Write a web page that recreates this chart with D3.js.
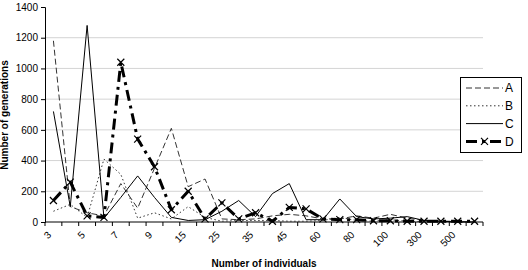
<!DOCTYPE html>
<html><head><meta charset="utf-8">
<script src="https://cdn.jsdelivr.net/npm/d3@7"></script>
<style>body{margin:0;background:#fff}svg{display:block;font-family:"Liberation Sans",Arial,sans-serif}</style>
</head><body><svg id="c" width="528" height="270"></svg>
<script>
const categories = ["3","4","5","6","7","8","9","10","15","20","25","30","35","40","45","50","60","70","80","90","100","200","300","400","500","600"];
const tickLabels = ["3","5","7","9","15","25","35","45","60","80","100","300","500"];
const yTicks = [0,200,400,600,800,1000,1200,1400];
const seriesA = [1180,100,60,40,250,90,350,610,230,280,20,15,20,40,50,40,20,20,40,25,50,25,10,5,5,0];
const seriesB = [70,115,30,410,310,25,60,20,100,30,5,10,10,10,5,5,10,30,10,5,15,5,2,0,0,0];
const seriesC = [720,100,1280,25,160,300,160,30,10,15,70,140,35,185,250,15,15,150,35,20,25,35,10,5,0,0];
const seriesD = [140,260,40,30,1040,540,360,80,200,20,125,20,60,5,95,85,20,15,15,8,8,5,5,5,5,5];
const seriesNames = ["A","B","C","D"];

const svg = d3.select("#c");
const x = d3.scaleBand().domain(categories).range([45,483]).padding(0);
const y = d3.scaleLinear().domain([0,1400]).range([222,7]);
const cx = c => x(c) + x.bandwidth()/2;

// gridlines
svg.append("g").selectAll("line").data(yTicks.filter(t=>t>0 && t<1400)).join("line")
  .attr("x1",45).attr("x2",483).attr("y1",d=>y(d)).attr("y2",d=>y(d))
  .attr("stroke","#d4d4d4").attr("stroke-width",1);

// y axis
const ya = svg.append("g").attr("transform","translate(45,0)")
  .call(d3.axisLeft(y).tickValues(yTicks).tickSize(4).tickPadding(3).tickFormat(d3.format("d")));
ya.select(".domain").attr("stroke","#000");
ya.selectAll("text").attr("font-size",10).attr("font-family","Liberation Sans, Arial").attr("fill","#000");
ya.selectAll(".tick line").attr("stroke","#000");

// x axis
const xa = svg.append("g").attr("transform","translate(0,222)");
xa.append("line").attr("x1",45).attr("x2",483).attr("y1",0).attr("y2",0).attr("stroke","#000");
const bounds = categories.map(c=>x(c)).concat([483]);
xa.selectAll("line.t").data(bounds).join("line").attr("class","t")
  .attr("x1",d=>d).attr("x2",d=>d).attr("y1",0).attr("y2",4).attr("stroke","#000");
xa.selectAll("text").data(tickLabels).join("text")
  .attr("transform",d=>`translate(${cx(d)-4},${11}) rotate(-45)`)
  .attr("text-anchor","end").attr("dy","0.35em")
  .attr("font-size",10).text(d=>d);

// lines
const line = d3.line().x((d,i)=>cx(categories[i])).y(d=>y(d));
const styles = {
  A:{data:seriesA, stroke:"#333", w:1, dash:"6,3"},
  B:{data:seriesB, stroke:"#333", w:1, dash:"1.5,2.5"},
  C:{data:seriesC, stroke:"#000", w:1, dash:null},
  D:{data:seriesD, stroke:"#000", w:3, dash:"11,5,3,5"}
};
["B","A","C","D"].forEach(k=>{
  const s = styles[k];
  svg.append("path").datum(s.data).attr("d",line).attr("fill","none")
    .attr("stroke",s.stroke).attr("stroke-width",s.w)
    .attr("stroke-dasharray",s.dash).attr("stroke-linejoin","round");
});
// D markers
const mk = (g,px,py)=>{
  const r=3.5;
  g.append("path").attr("d",`M${px-r},${py-r}L${px+r},${py+r}M${px-r},${py+r}L${px+r},${py-r}`)
    .attr("stroke","#000").attr("stroke-width",1.2).attr("fill","none");
};
const mg = svg.append("g");
seriesD.forEach((v,i)=>mk(mg,cx(categories[i]),y(v)));

// legend
const lg = svg.append("g");
lg.append("rect").attr("x",460.5).attr("y",77.5).attr("width",61).attr("height",75)
  .attr("fill","#fff").attr("stroke","#000");
seriesNames.forEach((n,i)=>{
  const s = styles[n];
  const ly = 88 + i*17.8;
  lg.append("line").attr("x1",466).attr("x2",503).attr("y1",ly).attr("y2",ly)
    .attr("stroke",s.stroke).attr("stroke-width",s.w).attr("stroke-dasharray",s.dash);
  if(n==="D") mk(lg,484.5,ly);
  lg.append("text").attr("x",505).attr("y",ly).attr("dy","0.36em").attr("font-size",12).text(n);
});

// titles
svg.append("text").attr("transform","translate(7.5,115) rotate(-90)").attr("text-anchor","middle")
  .attr("font-size",10).attr("font-weight","bold").text("Number of generations");
svg.append("text").attr("x",264).attr("y",267).attr("text-anchor","middle")
  .attr("font-size",10).attr("font-weight","bold").text("Number of individuals");
</script></body></html>
